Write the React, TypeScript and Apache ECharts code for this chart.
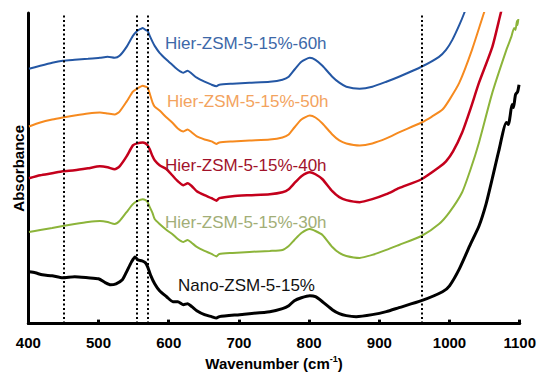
import React, { useEffect, useRef } from "react";
import * as echarts from "echarts";

// FT-IR spectra, absorbance in arbitrary (stacked) units vs. wavenumber (cm-1)
const hier60h: [number, number][] = [
  [401, 2.56], [417, 2.59], [434, 2.62], [449, 2.64], [466, 2.65], [485, 2.66], [502, 2.67],
  [513, 2.68], [523, 2.67], [530, 2.69], [540, 2.78], [549, 2.89], [555, 2.94], [560, 2.96],
  [563, 2.97], [567, 2.95], [570, 2.94], [573, 2.89], [577, 2.83], [580, 2.79], [587, 2.72],
  [597, 2.65], [605, 2.6], [613, 2.55], [621, 2.52], [627, 2.54], [633, 2.51], [640, 2.47],
  [651, 2.43], [661, 2.4], [668, 2.385], [672, 2.4], [691, 2.41], [715, 2.42], [744, 2.43],
  [762, 2.45], [771, 2.48], [779, 2.55], [789, 2.63], [801, 2.67], [809, 2.65], [819, 2.59],
  [833, 2.48], [843, 2.42], [853, 2.38], [872, 2.36], [890, 2.38], [910, 2.43], [928, 2.48],
  [960, 2.58], [985, 2.68], [995, 2.75], [1004, 2.85], [1014, 3.0], [1021, 3.12], [1026, 3.22],
];

const hier50h: [number, number][] = [
  [401, 1.98], [417, 2.02], [434, 2.05], [449, 2.07], [466, 2.09], [485, 2.11], [502, 2.12],
  [513, 2.11], [523, 2.1], [530, 2.13], [540, 2.23], [549, 2.33], [555, 2.36], [563, 2.39],
  [567, 2.38], [570, 2.37], [573, 2.31], [577, 2.22], [580, 2.18], [587, 2.14], [597, 2.07],
  [605, 2.02], [613, 1.96], [621, 1.93], [627, 1.95], [633, 1.92], [640, 1.88], [651, 1.85],
  [661, 1.83], [668, 1.805], [672, 1.82], [691, 1.83], [715, 1.84], [744, 1.85], [762, 1.87],
  [771, 1.9], [779, 1.97], [789, 2.05], [801, 2.09], [809, 2.07], [819, 2.01], [833, 1.9],
  [843, 1.84], [853, 1.81], [872, 1.79], [890, 1.81], [910, 1.86], [928, 1.92], [960, 2.02],
  [975, 2.08], [990, 2.15], [1000, 2.25], [1014, 2.42], [1032, 2.75], [1049, 3.12], [1054, 3.22],
];

const hier40h: [number, number][] = [
  [401, 1.46], [417, 1.49], [434, 1.51], [449, 1.53], [466, 1.54], [485, 1.56], [502, 1.58],
  [513, 1.57], [523, 1.55], [530, 1.58], [540, 1.68], [549, 1.79], [555, 1.81], [563, 1.82],
  [567, 1.81], [570, 1.79], [573, 1.75], [577, 1.68], [580, 1.64], [587, 1.59], [597, 1.55],
  [605, 1.49], [613, 1.43], [621, 1.39], [627, 1.41], [633, 1.38], [640, 1.33], [651, 1.29],
  [661, 1.26], [668, 1.235], [672, 1.26], [691, 1.28], [715, 1.29], [744, 1.3], [762, 1.32],
  [771, 1.35], [779, 1.41], [789, 1.48], [801, 1.52], [809, 1.5], [819, 1.45], [833, 1.33],
  [843, 1.27], [853, 1.24], [872, 1.22], [890, 1.25], [910, 1.3], [928, 1.36], [960, 1.45],
  [985, 1.57], [995, 1.63], [1005, 1.73], [1018, 1.92], [1030, 2.16], [1042, 2.42],
  [1061, 2.78], [1073, 3.12], [1077, 3.22],
];

const hier30h: [number, number][] = [
  [401, 0.92], [417, 0.94], [434, 0.96], [449, 0.98], [466, 1.0], [485, 1.02], [502, 1.03],
  [513, 1.02], [523, 1.0], [530, 1.03], [540, 1.12], [549, 1.2], [555, 1.23], [563, 1.25],
  [567, 1.24], [570, 1.22], [573, 1.17], [577, 1.11], [580, 1.05], [587, 1.0], [597, 0.94],
  [605, 0.9], [613, 0.85], [621, 0.82], [627, 0.84], [633, 0.81], [640, 0.77], [651, 0.73],
  [661, 0.7], [668, 0.675], [672, 0.7], [691, 0.71], [715, 0.72], [744, 0.73], [762, 0.74],
  [771, 0.78], [779, 0.84], [789, 0.91], [801, 0.95], [809, 0.93], [819, 0.89], [833, 0.77],
  [843, 0.71], [853, 0.68], [872, 0.66], [890, 0.69], [910, 0.74], [928, 0.79], [960, 0.88],
  [985, 1.0], [1000, 1.12], [1018, 1.32], [1030, 1.55], [1042, 1.82], [1061, 2.32],
  [1081, 2.75], [1088, 2.88], [1092, 2.97], [1094, 2.95], [1096, 3.04], [1097, 3.0], [1098, 3.06],
];

const nano: [number, number][] = [
  [401, 0.52], [410, 0.51], [420, 0.49], [434, 0.48], [449, 0.46], [466, 0.47], [485, 0.46],
  [500, 0.45], [510, 0.41], [517, 0.39], [525, 0.4], [534, 0.44], [540, 0.52], [547, 0.62],
  [552, 0.67], [556, 0.64], [562, 0.63], [567, 0.61], [570, 0.57], [574, 0.49], [580, 0.4],
  [587, 0.33], [597, 0.27], [606, 0.22], [613, 0.22], [621, 0.19], [627, 0.2], [633, 0.17],
  [640, 0.13], [651, 0.09], [661, 0.07], [668, 0.055], [672, 0.07], [701, 0.09], [744, 0.12],
  [762, 0.15], [771, 0.18], [779, 0.23], [789, 0.26], [801, 0.28], [809, 0.27], [819, 0.22],
  [833, 0.14], [843, 0.1], [853, 0.08], [867, 0.07], [890, 0.09], [910, 0.12], [928, 0.16],
  [960, 0.23], [990, 0.32], [1000, 0.38], [1014, 0.55], [1030, 0.8], [1042, 0.98],
  [1052, 1.2], [1061, 1.46], [1070, 1.73], [1081, 2.02], [1084, 2.0], [1086, 2.07],
  [1089, 2.2], [1091, 2.17], [1094, 2.3], [1097, 2.33], [1099, 2.4],
];

// reference band positions (cm-1)
const markers = [450, 555, 570, 960];

const xTicks = { min: 400, max: 1100, interval: 100 };
const yRange = { min: 0, max: 3.12 };

type Trace = { name: string; data: [number, number][]; color: string; width: number };

const traces: Trace[] = [
  { name: "Hier-ZSM-5-15%-60h", data: hier60h, color: "#2457a4", width: 2 },
  { name: "Hier-ZSM-5-15%-50h", data: hier50h, color: "#f68a1f", width: 2 },
  { name: "Hier-ZSM-5-15%-40h", data: hier40h, color: "#c4001c", width: 2.5 },
  { name: "Hier-ZSM-5-15%-30h", data: hier30h, color: "#8cb43a", width: 2 },
  { name: "Nano-ZSM-5-15%", data: nano, color: "#000000", width: 3 },
];

const curveLabels = [
  { text: "Hier-ZSM-5-15%-60h", x: 165, y: 43, color: "#3d68a8" },
  { text: "Hier-ZSM-5-15%-50h", x: 167, y: 101, color: "#f3a35e" },
  { text: "Hier-ZSM-5-15%-40h", x: 165, y: 165, color: "#a1122a" },
  { text: "Hier-ZSM-5-15%-30h", x: 165, y: 222, color: "#a2ae77" },
  { text: "Nano-ZSM-5-15%", x: 178, y: 285, color: "#111111" },
];

const FONT = "'Liberation Sans', Arial, Helvetica, sans-serif";

export default function App() {
  const ref = useRef<HTMLDivElement>(null);

  useEffect(() => {
    if (!ref.current) return;
    const chart = echarts.init(ref.current, undefined, { renderer: "svg" });

    const series: any[] = traces.map((t) => ({
      name: t.name,
      type: "line",
      data: t.data,
      showSymbol: false,
      smooth: 0.2,
      clip: true,
      lineStyle: { color: t.color, width: t.width },
      itemStyle: { color: t.color },
      z: 3,
    }));

    series.push({
      name: "bands",
      type: "line",
      data: [],
      z: 4,
      markLine: {
        silent: true,
        symbol: "none",
        label: { show: false },
        lineStyle: { color: "#000", width: 2, type: [2, 2.5] },
        data: markers.map((m) => ({ xAxis: m })),
      },
    });

    chart.setOption({
      animation: false,
      backgroundColor: "#ffffff",
      grid: { left: 28.3, right: 18.3, top: 13, bottom: 51 },
      xAxis: {
        type: "value",
        min: xTicks.min,
        max: xTicks.max,
        interval: xTicks.interval,
        name: "{a|Wavenumber (cm}{s|-1}{a|)}",
        nameLocation: "middle",
        nameGap: 30,
        nameTextStyle: {
          rich: {
            a: { fontFamily: FONT, fontSize: 15, fontWeight: "bold", color: "#000", lineHeight: 18 },
            s: {
              fontFamily: FONT,
              fontSize: 9,
              fontWeight: "bold",
              color: "#000",
              lineHeight: 10,
              verticalAlign: "top",
            },
          },
        },
        axisLine: { show: true, onZero: false, lineStyle: { color: "#000", width: 3 } },
        axisTick: { show: true, inside: true, length: 4, lineStyle: { color: "#000", width: 3 } },
        axisLabel: {
          margin: 11,
          fontFamily: FONT,
          fontSize: 15,
          fontWeight: "bold",
          color: "#000",
          formatter: (v: number) => String(v),
        },
        splitLine: { show: false },
      },
      yAxis: {
        type: "value",
        min: yRange.min,
        max: yRange.max,
        name: "Absorbance",
        nameLocation: "middle",
        nameGap: 2,
        nameTextStyle: { fontFamily: FONT, fontSize: 15, fontWeight: "bold", color: "#000" },
        axisLine: { show: true, onZero: false, lineStyle: { color: "#000", width: 3 } },
        axisTick: { show: false },
        axisLabel: { show: false },
        splitLine: { show: false },
      },
      graphic: curveLabels.map((l) => ({
        type: "text",
        x: l.x,
        y: l.y,
        z: 10,
        style: {
          text: l.text,
          fill: l.color,
          fontFamily: FONT,
          fontSize: 17,
          verticalAlign: "middle",
          align: "left",
        },
      })),
      series,
    });

    return () => chart.dispose();
  }, []);

  return (
    <div
      ref={ref}
      style={{ position: "fixed", left: 0, top: 0, width: 539, height: 376, background: "#fff" }}
    />
  );
}
